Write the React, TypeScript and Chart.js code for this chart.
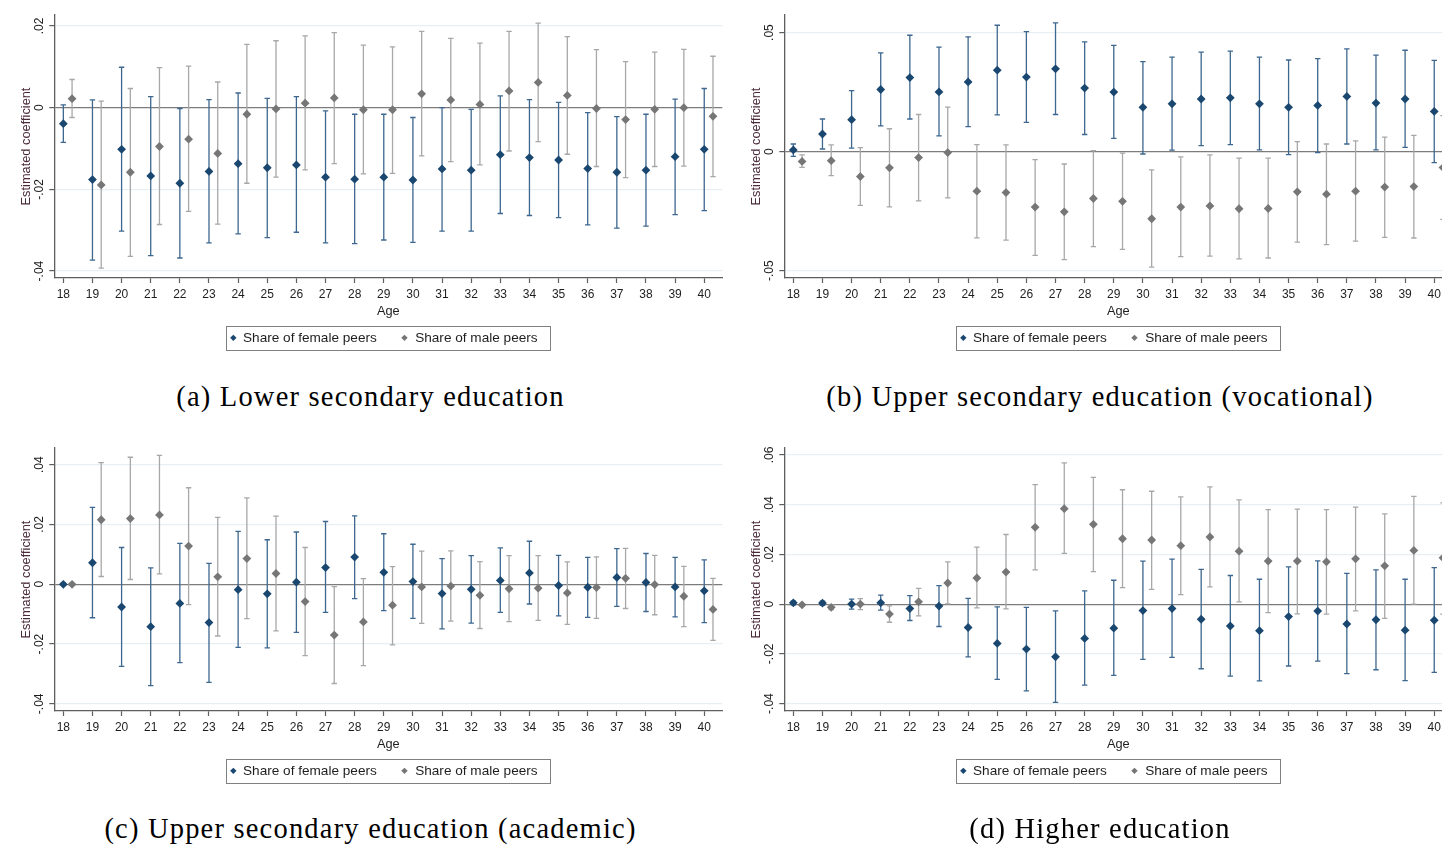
import React, { useEffect, useRef } from "react";
import { Chart, registerables } from "chart.js";

Chart.register(...registerables);

// ---------- data ----------
const ages = [18, 19, 20, 21, 22, 23, 24, 25, 26, 27, 28, 29, 30, 31, 32, 33, 34, 35, 36, 37, 38, 39, 40];
const seriesLabels = ["Share of female peers", "Share of male peers"];

// (a) Lower secondary education
const aFemale = [-0.0039, -0.0176, -0.0102, -0.0167, -0.0185, -0.0156, -0.0137, -0.0147, -0.014, -0.017, -0.0175, -0.017, -0.0177, -0.015, -0.0153, -0.0115, -0.0122, -0.0128, -0.0149, -0.0158, -0.0153, -0.012, -0.0102];
const aFemaleLo = [-0.0085, -0.0373, -0.0302, -0.0362, -0.0368, -0.0331, -0.0309, -0.0318, -0.0305, -0.0331, -0.0333, -0.0324, -0.033, -0.0302, -0.0302, -0.0259, -0.0264, -0.0269, -0.0287, -0.0295, -0.029, -0.0262, -0.0252];
const aFemaleHi = [0.0007, 0.0019, 0.0099, 0.0027, -0.0002, 0.002, 0.0036, 0.0023, 0.0027, -0.0008, -0.0016, -0.0016, -0.0024, 0.0, -0.0004, 0.0029, 0.002, 0.0013, -0.0012, -0.0022, -0.0016, 0.0021, 0.0047];
const aMale = [0.0022, -0.0189, -0.0158, -0.0095, -0.0077, -0.0112, -0.0016, -0.0003, 0.0011, 0.0024, -0.0005, -0.0005, 0.0034, 0.0019, 0.0008, 0.0041, 0.0062, 0.003, -0.0002, -0.0029, -0.0004, 0.0, -0.0021];
const aMaleLo = [-0.0024, -0.0393, -0.0364, -0.0286, -0.0254, -0.0285, -0.0185, -0.017, -0.0152, -0.0137, -0.0162, -0.0161, -0.0118, -0.0132, -0.014, -0.0106, -0.0083, -0.0114, -0.0144, -0.0171, -0.0144, -0.0143, -0.0169];
const aMaleHi = [0.0069, 0.0016, 0.0047, 0.0098, 0.0102, 0.0063, 0.0155, 0.0164, 0.0176, 0.0184, 0.0153, 0.0149, 0.0187, 0.017, 0.0158, 0.0187, 0.0207, 0.0174, 0.0142, 0.0113, 0.0136, 0.0143, 0.0126];
const aTicks = [-0.04, -0.02, 0, 0.02];
const aTickLabels = ["-.04", "-.02", "0", ".02"];

// (b) Upper secondary education (vocational)
const bFemale = [0.0007, 0.0074, 0.0134, 0.0261, 0.0311, 0.0251, 0.0293, 0.0342, 0.0313, 0.0348, 0.0267, 0.025, 0.0186, 0.0201, 0.0221, 0.0226, 0.0201, 0.0186, 0.0194, 0.0232, 0.0204, 0.0221, 0.0169];
const bFemaleLo = [-0.002, 0.0011, 0.0015, 0.0108, 0.0137, 0.0066, 0.0105, 0.0154, 0.0123, 0.0156, 0.0072, 0.0056, -0.001, 0.0006, 0.0025, 0.0029, 0.0007, -0.0013, -0.0004, 0.0032, 0.0007, 0.0018, -0.0046];
const bFemaleHi = [0.0032, 0.0137, 0.0256, 0.0415, 0.0489, 0.0439, 0.0482, 0.0531, 0.0504, 0.0541, 0.0461, 0.0446, 0.0378, 0.0397, 0.0418, 0.0422, 0.0397, 0.0385, 0.0391, 0.0432, 0.0405, 0.0426, 0.0383];
const bMale = [-0.0041, -0.0038, -0.0105, -0.0068, -0.0025, -0.0004, -0.0166, -0.0172, -0.0233, -0.0253, -0.0197, -0.0209, -0.0282, -0.0233, -0.0228, -0.024, -0.0239, -0.0169, -0.0179, -0.0166, -0.0149, -0.0147, -0.0067];
const bMaleLo = [-0.0066, -0.0101, -0.0226, -0.0232, -0.0207, -0.0194, -0.0362, -0.0372, -0.0436, -0.0454, -0.0399, -0.0411, -0.0485, -0.0441, -0.0439, -0.0451, -0.0447, -0.038, -0.0391, -0.0376, -0.036, -0.0363, -0.0285];
const bMaleHi = [-0.0014, 0.0028, 0.0017, 0.0096, 0.0156, 0.0187, 0.0029, 0.0028, -0.0034, -0.0052, 0.0004, -0.0006, -0.0077, -0.0022, -0.0014, -0.0027, -0.0027, 0.0042, 0.0032, 0.0045, 0.0061, 0.0068, 0.0151];
const bTicks = [-0.05, 0, 0.05];
const bTickLabels = ["-.05", "0", ".05"];

// (c) Upper secondary education (academic)
const cFemale = [0.0, 0.0072, -0.0076, -0.0142, -0.0064, -0.0128, -0.0018, -0.0032, 0.0007, 0.0056, 0.0091, 0.004, 0.0009, -0.0031, -0.0017, 0.0013, 0.0038, -0.0004, -0.001, 0.0023, 0.0006, -0.0009, -0.0022];
const cFemaleLo = [-0.0003, -0.0112, -0.0275, -0.0339, -0.0262, -0.0328, -0.0211, -0.0213, -0.0161, -0.0094, -0.0048, -0.0088, -0.0114, -0.0149, -0.013, -0.0094, -0.0066, -0.0106, -0.0111, -0.0074, -0.0091, -0.0109, -0.0128];
const cFemaleHi = [0.0003, 0.0257, 0.0123, 0.0055, 0.0137, 0.007, 0.0177, 0.0149, 0.0175, 0.021, 0.0229, 0.0169, 0.0134, 0.0086, 0.0096, 0.0122, 0.0144, 0.0097, 0.009, 0.0119, 0.0103, 0.009, 0.0082];
const cMale = [0.0, 0.0216, 0.022, 0.0232, 0.0128, 0.0025, 0.0086, 0.0036, -0.0058, -0.017, -0.0126, -0.007, -0.0009, -0.0006, -0.0037, -0.0015, -0.0013, -0.0029, -0.0011, 0.002, -0.0001, -0.004, -0.0084];
const cMaleLo = [-0.0003, 0.0026, 0.0016, 0.0035, -0.0068, -0.0173, -0.0115, -0.0156, -0.0239, -0.0332, -0.0272, -0.0203, -0.0131, -0.0123, -0.0148, -0.0125, -0.0121, -0.0134, -0.0114, -0.0081, -0.0102, -0.0142, -0.0188];
const cMaleHi = [0.0003, 0.0407, 0.0425, 0.0431, 0.0323, 0.0224, 0.0289, 0.0228, 0.0123, -0.0008, 0.0019, 0.0059, 0.0111, 0.0112, 0.0076, 0.0096, 0.0096, 0.0075, 0.0092, 0.012, 0.0097, 0.006, 0.002];
const cTicks = [-0.04, -0.02, 0, 0.02, 0.04];
const cTickLabels = ["-.04", "-.02", "0", ".02", ".04"];

// (d) Higher education
const dFemale = [0.0005, 0.0004, 0.0, 0.0005, -0.0018, -0.0008, -0.0094, -0.0158, -0.0181, -0.0212, -0.0138, -0.0097, -0.0026, -0.0018, -0.0061, -0.0088, -0.0107, -0.005, -0.0028, -0.008, -0.0063, -0.0105, -0.0065];
const dFemaleLo = [-0.0003, -0.0005, -0.002, -0.0024, -0.0066, -0.009, -0.0212, -0.0303, -0.0349, -0.0395, -0.0326, -0.0287, -0.0222, -0.0214, -0.026, -0.029, -0.0309, -0.0249, -0.0229, -0.028, -0.0264, -0.0308, -0.0275];
const dFemaleHi = [0.0012, 0.0012, 0.002, 0.0036, 0.0034, 0.0074, 0.0023, -0.0011, -0.0013, -0.0027, 0.0053, 0.0096, 0.0173, 0.0181, 0.014, 0.0115, 0.01, 0.015, 0.0174, 0.0124, 0.0138, 0.01, 0.0147];
const dMale = [-0.0003, -0.0013, 0.0, -0.004, 0.0009, 0.0085, 0.0105, 0.0129, 0.0309, 0.0384, 0.0321, 0.0263, 0.0258, 0.0235, 0.027, 0.0213, 0.0173, 0.0173, 0.017, 0.0182, 0.0154, 0.0216, 0.0186];
const dMaleLo = [-0.0008, -0.0022, -0.0022, -0.0073, -0.0047, 0.0001, -0.0015, -0.0019, 0.0138, 0.0204, 0.0131, 0.0066, 0.0059, 0.0038, 0.0069, 0.0009, -0.0034, -0.0039, -0.004, -0.0027, -0.0057, 0.0, -0.004];
const dMaleHi = [0.0002, -0.0003, 0.0022, -0.0007, 0.0063, 0.017, 0.0229, 0.028, 0.0481, 0.0568, 0.051, 0.046, 0.0454, 0.0431, 0.0472, 0.0419, 0.038, 0.0382, 0.038, 0.039, 0.0363, 0.0433, 0.0407];
const dTicks = [-0.04, -0.02, 0, 0.02, 0.04, 0.06];
const dTickLabels = ["-.04", "-.02", "0", ".02", ".04", ".06"];

// ---------- styles ----------
const SANS = "'Liberation Sans', Arial, sans-serif";
const SERIF = "'Liberation Serif', 'Times New Roman', serif";
const FEMALE = "#1a476f";
const FEMALE_CI = "#3d678f";
const MALE = "#767676";
const MALE_CI = "#a8a8a8";
const AXIS = "#5e5e5e";
const GRID = "#e7eff2";
const ZERO = "#7c7c7c";
const TEXT = "#1e1e1e";
const YTITLE = "#4a2a3a";

const CW = 740;
const CH = 365;
const PLOT_LEFT = 54.3;
const PLOT_RIGHT = 722.3;
const PLOT_TOP = 15;
const PLOT_BOTTOM = 278;
const MALE_SHIFT = 0.3;

const whiskerPlugin = {
  id: "whiskers",
  beforeDatasetsDraw(chart: any) {
    const ctx = chart.ctx;
    const ys = chart.scales.y;
    chart.data.datasets.forEach((ds: any, i: number) => {
      const meta = chart.getDatasetMeta(i);
      ctx.save();
      ctx.strokeStyle = ds.ciColor;
      ctx.lineWidth = 1.3;
      meta.data.forEach((pt: any, j: number) => {
        const x = pt.x;
        const y1 = ys.getPixelForValue(ds.lo[j]);
        const y2 = ys.getPixelForValue(ds.hi[j]);
        ctx.beginPath();
        ctx.moveTo(x, y1);
        ctx.lineTo(x, y2);
        ctx.moveTo(x - 2.7, y1);
        ctx.lineTo(x + 2.7, y1);
        ctx.moveTo(x - 2.7, y2);
        ctx.lineTo(x + 2.7, y2);
        ctx.stroke();
      });
      ctx.restore();
    });
  },
};

function diamond(ctx: CanvasRenderingContext2D, x: number, y: number, r: number, color: string) {
  ctx.beginPath();
  ctx.moveTo(x - r, y);
  ctx.lineTo(x, y - r);
  ctx.lineTo(x + r, y);
  ctx.lineTo(x, y + r);
  ctx.closePath();
  ctx.fillStyle = color;
  ctx.fill();
}

function makeDecor(tickLabels: string[]) {
  return {
    id: "decor",
    afterDraw(chart: any) {
      const ctx: CanvasRenderingContext2D = chart.ctx;
      const area = chart.chartArea;
      const ys = chart.scales.y;
      ctx.save();
      // rotated y tick labels
      ctx.fillStyle = TEXT;
      ctx.font = `12px ${SANS}`;
      ctx.textAlign = "center";
      ctx.textBaseline = "middle";
      ys.ticks.forEach((t: any, i: number) => {
        const y = ys.getPixelForValue(t.value);
        ctx.save();
        ctx.translate(40, y);
        ctx.rotate(-Math.PI / 2);
        ctx.fillText(tickLabels[i], 0, 0);
        ctx.restore();
      });
      // y title
      ctx.save();
      ctx.fillStyle = YTITLE;
      ctx.font = `12.8px ${SANS}`;
      ctx.translate(26.5, (area.top + area.bottom) / 2);
      ctx.rotate(-Math.PI / 2);
      ctx.fillText("Estimated coefficient", 0, 0);
      ctx.restore();
      // x title
      const cx = (area.left + area.right) / 2;
      ctx.fillStyle = TEXT;
      ctx.font = `12.8px ${SANS}`;
      ctx.fillText("Age", cx, 311);
      // legend
      ctx.font = `13.6px ${SANS}`;
      const ds = chart.data.datasets;
      const w1 = ctx.measureText(ds[0].label).width;
      const w2 = ctx.measureText(ds[1].label).width;
      const total = 16.7 + w1 + 27.7 + 10.7 + w2 + 12.7;
      const bx = cx - total / 2;
      const by = 325.7;
      const bh = 24.3;
      ctx.strokeStyle = "#808080";
      ctx.lineWidth = 1;
      ctx.strokeRect(Math.round(bx) + 0.5, Math.round(by) + 0.5, Math.round(total), Math.round(bh));
      const my = by + bh / 2;
      diamond(ctx, bx + 7, my, 3.2, ds[0].pointBackgroundColor);
      ctx.fillStyle = TEXT;
      ctx.textAlign = "left";
      ctx.fillText(ds[0].label, bx + 16.7, my + 0.5);
      const d2 = bx + 16.7 + w1 + 27.7;
      diamond(ctx, d2, my, 3.2, ds[1].pointBackgroundColor);
      ctx.fillStyle = TEXT;
      ctx.fillText(ds[1].label, d2 + 10.7, my + 0.5);
      ctx.restore();
    },
  };
}

type PanelProps = {
  left: number;
  top: number;
  female: number[];
  femaleLo: number[];
  femaleHi: number[];
  male: number[];
  maleLo: number[];
  maleHi: number[];
  yMin: number;
  yMax: number;
  yTicks: number[];
  yTickLabels: string[];
};

function Panel(p: PanelProps) {
  const ref = useRef<HTMLCanvasElement>(null);
  useEffect(() => {
    const chart = new Chart(ref.current as HTMLCanvasElement, {
      type: "scatter",
      data: {
        datasets: [
          {
            label: seriesLabels[0],
            data: ages.map((a, i) => ({ x: a, y: p.female[i] })),
            lo: p.femaleLo,
            hi: p.femaleHi,
            ciColor: FEMALE_CI,
            pointStyle: "rectRot",
            pointRadius: 4.4,
            pointBorderWidth: 0,
            pointBackgroundColor: FEMALE,
            pointBorderColor: FEMALE,
          } as any,
          {
            label: seriesLabels[1],
            data: ages.map((a, i) => ({ x: a + MALE_SHIFT, y: p.male[i] })),
            lo: p.maleLo,
            hi: p.maleHi,
            ciColor: MALE_CI,
            pointStyle: "rectRot",
            pointRadius: 4.4,
            pointBorderWidth: 0,
            pointBackgroundColor: MALE,
            pointBorderColor: MALE,
          } as any,
        ],
      },
      options: {
        responsive: false,
        animation: false,
        devicePixelRatio: 1,
        layout: { padding: { top: PLOT_TOP, right: CW - PLOT_RIGHT, left: 0, bottom: 0 } },
        plugins: { legend: { display: false }, tooltip: { enabled: false } },
        scales: {
          x: {
            type: "linear",
            min: 17.69,
            max: 40.62,
            afterBuildTicks: (s: any) => {
              s.ticks = ages.map((v) => ({ value: v }));
            },
            afterFit: (s: any) => {
              s.height = CH - PLOT_BOTTOM;
            },
            ticks: {
              autoSkip: false,
              maxRotation: 0,
              minRotation: 0,
              padding: 4,
              color: TEXT,
              font: { family: SANS, size: 12 },
              callback: (v: any) => String(v),
            },
            grid: { drawOnChartArea: false, drawTicks: true, tickLength: 5, tickColor: AXIS, tickWidth: 1.2 },
            border: { color: AXIS, width: 1.3 },
          },
          y: {
            min: p.yMin,
            max: p.yMax,
            afterBuildTicks: (s: any) => {
              s.ticks = p.yTicks.map((v) => ({ value: v }));
            },
            afterFit: (s: any) => {
              s.width = PLOT_LEFT;
            },
            ticks: { display: false },
            grid: {
              color: (c: any) => (c.tick && Math.abs(c.tick.value) < 1e-9 ? ZERO : GRID),
              lineWidth: 1.2,
              drawTicks: true,
              tickLength: 5,
              tickColor: AXIS,
              tickWidth: 1.2,
            },
            border: { color: AXIS, width: 1.3 },
          },
        },
      } as any,
      plugins: [whiskerPlugin, makeDecor(p.yTickLabels)],
    });
    return () => chart.destroy();
  }, []);
  return (
    <canvas
      ref={ref}
      width={CW}
      height={CH}
      style={{ position: "absolute", left: p.left, top: p.top, width: CW, height: CH }}
    />
  );
}

function Caption({ text, cx, cy }: { text: string; cx: number; cy: number }) {
  return (
    <div
      style={{
        position: "absolute",
        left: cx - 370,
        top: cy - 17,
        width: 740,
        height: 34,
        lineHeight: "34px",
        textAlign: "center",
        fontFamily: SERIF,
        fontSize: 28.5,
        letterSpacing: "1.2px",
        color: "#000",
        whiteSpace: "nowrap",
      }}
    >
      {text}
    </div>
  );
}

export default function App() {
  return (
    <div
      style={{
        position: "absolute",
        left: 0,
        top: 0,
        width: 1442,
        height: 847,
        overflow: "hidden",
        background: "#fff",
      }}
    >
      <Panel left={0} top={0} female={aFemale} femaleLo={aFemaleLo} femaleHi={aFemaleHi} male={aMale} maleLo={aMaleLo} maleHi={aMaleHi} yMin={-0.0417} yMax={0.0227} yTicks={aTicks} yTickLabels={aTickLabels} />
      <Panel left={730} top={0} female={bFemale} femaleLo={bFemaleLo} femaleHi={bFemaleHi} male={bMale} maleLo={bMaleLo} maleHi={bMaleHi} yMin={-0.0531} yMax={0.0574} yTicks={bTicks} yTickLabels={bTickLabels} />
      <Panel left={0} top={433} female={cFemale} femaleLo={cFemaleLo} femaleHi={cFemaleHi} male={cMale} maleLo={cMaleLo} maleHi={cMaleHi} yMin={-0.0424} yMax={0.0456} yTicks={cTicks} yTickLabels={cTickLabels} />
      <Panel left={730} top={433} female={dFemale} femaleLo={dFemaleLo} femaleHi={dFemaleHi} male={dMale} maleLo={dMaleLo} maleHi={dMaleHi} yMin={-0.043} yMax={0.0628} yTicks={dTicks} yTickLabels={dTickLabels} />
      <Caption text="(a) Lower secondary education" cx={370.5} cy={397} />
      <Caption text="(b) Upper secondary education (vocational)" cx={1100} cy={397} />
      <Caption text="(c) Upper secondary education (academic)" cx={370.5} cy={829} />
      <Caption text="(d) Higher education" cx={1100} cy={829} />
    </div>
  );
}
